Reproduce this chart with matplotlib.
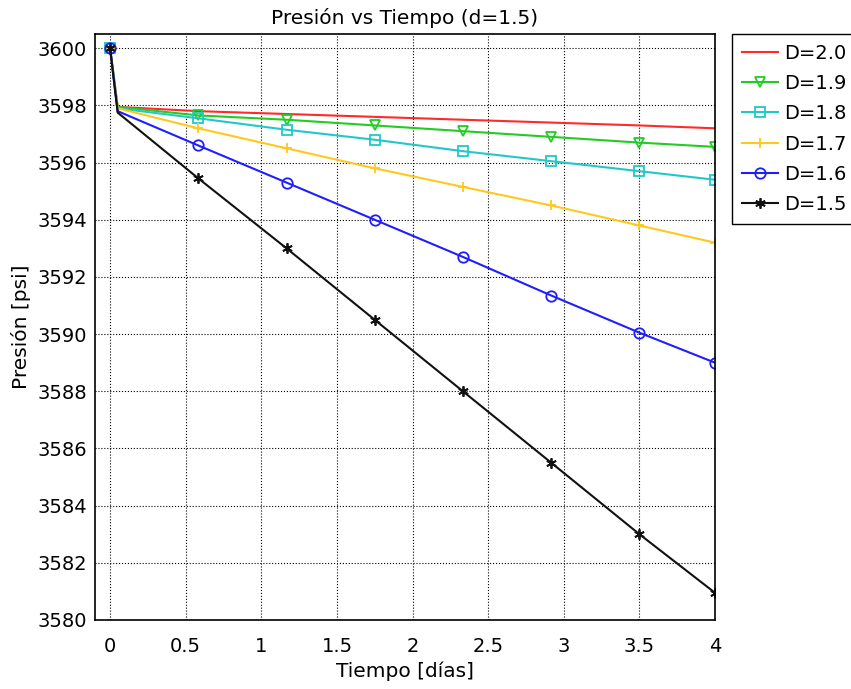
import numpy as np
import matplotlib.pyplot as plt

# tiempo [dias] y presion [psi] para cada D
t = [0, 0.05, 0.583, 1.167, 1.75, 2.333, 2.917, 3.5, 4.0]
p_20 = [3600, 3597.95, 3597.8, 3597.7, 3597.6, 3597.5, 3597.4, 3597.3, 3597.2]
p_19 = [3600, 3597.95, 3597.65, 3597.5, 3597.3, 3597.1, 3596.9, 3596.7, 3596.55]
p_18 = [3600, 3597.9, 3597.55, 3597.15, 3596.8, 3596.4, 3596.05, 3595.7, 3595.4]
p_17 = [3600, 3597.9, 3597.2, 3596.5, 3595.8, 3595.15, 3594.5, 3593.8, 3593.2]
p_16 = [3600, 3597.8, 3596.6, 3595.3, 3594.0, 3592.7, 3591.35, 3590.05, 3589.0]
p_15 = [3600, 3597.75, 3595.45, 3593.0, 3590.5, 3588.0, 3585.5, 3583.0, 3580.95]

labels = ['D=2.0', 'D=1.9', 'D=1.8', 'D=1.7', 'D=1.6', 'D=1.5']
series = [p_20, p_19, p_18, p_17, p_16, p_15]
colors = ['#ff2a2a', '#22cc22', '#22c8c8', '#ffc81e', '#1e1eff', '#111111']
markers = ['None', 'v', 's', '+', 'o', (6, 2, 0)]

fig = plt.figure(figsize=(8.51, 6.89), dpi=100)
ax = fig.add_axes([0.1116, 0.1002, 0.7286, 0.8505])

mk_idx = [0, 2, 3, 4, 5, 6, 7, 8]
for p, lab, c, m in zip(series, labels, colors, markers):
    ax.plot(t, p, color=c, lw=1.5, marker=m, markevery=mk_idx, markersize=7.5,
            fillstyle='none', markeredgewidth=1.3, label=lab)

ax.set_xlim(-0.1, 4.0)
ax.set_ylim(3580, 3600.5)
ax.set_xticks([0, 0.5, 1, 1.5, 2, 2.5, 3, 3.5, 4])
ax.set_xticklabels(['0', '0.5', '1', '1.5', '2', '2.5', '3', '3.5', '4'])
ax.set_yticks(np.arange(3580, 3601, 2))
ax.grid(True, color='black', linestyle=':', linewidth=0.8)
ax.tick_params(labelsize=14, direction='in', length=0)
ax.tick_params(axis='x', pad=12)
ax.tick_params(axis='y', pad=6)
for s in ax.spines.values():
    s.set_linewidth(1.2)

ax.set_title('Presión vs Tiempo (d=1.5)', fontsize=14.5, pad=7)
ax.set_xlabel('Tiempo [días]', fontsize=14.5, labelpad=4)
ax.set_ylabel('Presión [psi]', fontsize=14.5)

leg = ax.legend(loc='upper left', bbox_to_anchor=(1.028, 1.0), fontsize=14,
                fancybox=False, framealpha=1, edgecolor='black',
                handlelength=1.85, handletextpad=0.3, borderpad=0.5,
                borderaxespad=0, labelspacing=0.58)
leg.get_frame().set_linewidth(1.0)

fig.savefig('out.png', dpi=100)
